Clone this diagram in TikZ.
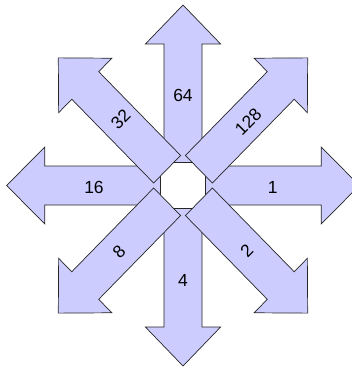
\documentclass[tikz,border=0pt]{standalone}
\usepackage{fontspec}
\setmainfont{Liberation Sans}
\definecolor{arrowfill}{HTML}{CCCCFF}
\newcommand\bigarr[1]{\draw[bigarrow, rotate=#1] (23,-19.5) -- (141.5,-19.5) -- (141.5,-38.5) -- (180.5,0) -- (141.5,38.5) -- (141.5,19.5) -- (23,19.5) -- cycle;}
\begin{document}
\begin{tikzpicture}[x=1pt,y=1pt,
  bigarrow/.style={fill=arrowfill, draw=black!85, line width=0.7pt, line join=miter},
  lbl/.style={font=\fontsize{17.5}{20}\selectfont, inner sep=0pt}]
\useasboundingbox (-183,-181.5) rectangle (168,185.5);
\begin{scope}[xscale=0.977]
  \foreach \a in {0,90,180,270,45,135,225,315} {\bigarr{\a}}
\end{scope}
\node[lbl] (l64) at (0,90.5) {64};
\node[lbl] (l1) at (89.7,-1.8) {1};
\node[lbl] (l16) at (-89,-1.8) {16};
\node[lbl] (l4) at (0,-95.2) {4};
\node[lbl, rotate=45] (l2) at (63.7,-65.2) {2};
\node[lbl, rotate=45] (l8) at (-64,-66.2) {8};
\node[lbl, rotate=45] (l32) at (-62.3,66.2) {32};
\node[lbl, rotate=45] (l128) at (65.3,63.8) {128};
\end{tikzpicture}
\end{document}
